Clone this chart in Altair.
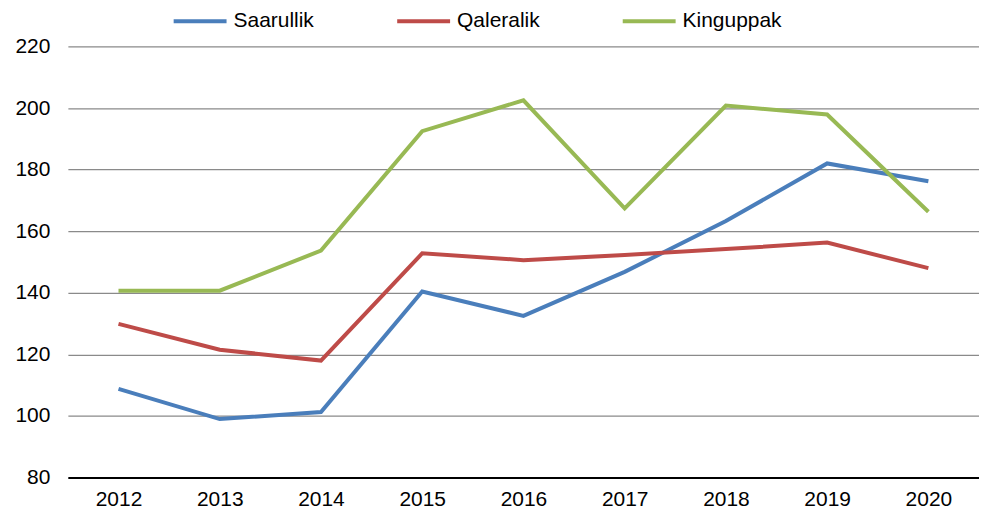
import altair as alt
import pandas as pd

years = ["2012", "2013", "2014", "2015", "2016", "2017", "2018", "2019", "2020"]
series_names = ["Saarullik", "Qaleralik", "Kinguppak"]
saarullik = [108.8, 99.0, 101.3, 140.4, 132.5, 146.8, 163.3, 182.0, 176.2]
qaleralik = [129.9, 121.5, 118.0, 152.8, 150.6, 152.3, 154.2, 156.3, 148.0]
kinguppak = [140.7, 140.7, 153.7, 192.5, 202.5, 167.4, 200.8, 197.9, 166.3]
colors = ["#4A7EBB", "#BE4B48", "#98B954"]
y_ticks = [80, 100, 120, 140, 160, 180, 200, 220]

rows = []
for name, vals in zip(series_names, [saarullik, qaleralik, kinguppak]):
    for yr, v in zip(years, vals):
        rows.append({"Year": yr, "Value": v, "Series": name})
df = pd.DataFrame(rows)

font = "Liberation Sans"

chart = alt.Chart(df).mark_line(strokeWidth=4, strokeJoin="miter").encode(
    x=alt.X("Year:O", sort=years, title=None,
            scale=alt.Scale(type="point", padding=0.5),
            axis=alt.Axis(labelAngle=0, ticks=False, domainColor="black", domainWidth=2,
                          labelFontSize=21, labelColor="black", labelFont=font,
                          labelPadding=11, grid=False)),
    y=alt.Y("Value:Q", title=None,
            scale=alt.Scale(domain=[80, 220], nice=False, zero=False),
            axis=alt.Axis(values=y_ticks, domain=False, ticks=False, labelFontSize=21,
                          labelColor="black", labelFont=font, labelPadding=18,
                          gridColor="#8A8A8A", gridWidth=1.3)),
    color=alt.Color("Series:N", sort=series_names,
                    scale=alt.Scale(domain=series_names, range=colors),
                    legend=alt.Legend(title=None, orient="none", direction="horizontal",
                                      legendX=104, legendY=-54, symbolType="stroke",
                                      symbolSize=2809, symbolStrokeWidth=4,
                                      labelFontSize=21, labelFont=font, labelColor="black",
                                      labelOffset=5, columnPadding=75)),
).properties(
    width=913, height=432,
    padding={"left": 60, "top": 38, "right": 0, "bottom": 35},
    autosize=alt.AutoSizeParams(type="none"),
).configure_view(stroke=None)

chart.save("out.html", embed_options={"renderer": "svg", "actions": False})
